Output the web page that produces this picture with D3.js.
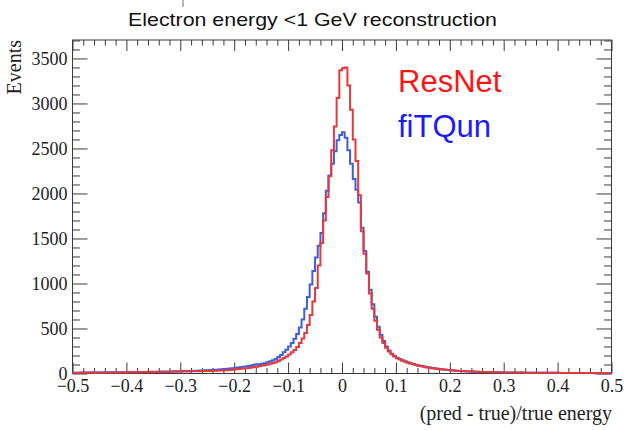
<!DOCTYPE html>
<html>
<head>
<meta charset="utf-8">
<script src="https://cdn.jsdelivr.net/npm/d3@7"></script>
<style>
  html, body { margin: 0; padding: 0; background: #ffffff; }
  svg { display: block; }
</style>
</head>
<body>
<svg id="chart" width="626" height="430"></svg>
<script>
// Histogram binning: 200 bins of width 0.005 over [-0.5, 0.5]
const xDomain = [-0.5, 0.5];
const binWidth = 0.005;

// Events per bin, ResNet reconstruction
const resnetCounts = [
  8, 9, 8, 9, 10, 9, 10, 10, 9, 11,
  10, 11, 11, 10, 12, 11, 12, 12, 13, 12,
  13, 13, 14, 13, 14, 15, 14, 15, 16, 15,
  16, 16, 17, 17, 18, 18, 19, 19, 20, 21,
  21, 22, 22, 23, 24, 24, 25, 26, 27, 27,
  28, 29, 30, 31, 33, 34, 35, 37, 39, 41,
  47, 49, 52, 55, 58, 62, 66, 71, 76, 82,
  90, 95, 101, 108, 116, 125, 140, 155, 172, 190,
  212, 235, 262, 295, 340, 390, 450, 540, 650, 800,
  950, 1200, 1450, 1700, 1960, 2190, 2480, 2745, 3060, 3370,
  3390, 3400, 3200, 2930, 2600, 2360, 1980, 1580, 1330, 1110,
  890, 720, 585, 485, 400, 340, 285, 245, 215, 190,
  170, 155, 142, 130, 120, 111, 102, 94, 87, 80,
  74, 68, 63, 59, 55, 51, 47, 44, 41, 38,
  35, 33, 31, 29, 27, 25, 24, 22, 21, 20,
  19, 18, 17, 16, 16, 15, 14, 14, 13, 13,
  12, 12, 11, 11, 11, 10, 10, 10, 9, 9,
  9, 9, 8, 8, 8, 8, 7, 7, 7, 7,
  7, 6, 6, 6, 6, 6, 6, 5, 5, 5,
  5, 5, 5, 5, 5, 4, 4, 4, 4, 4
];

// Events per bin, fiTQun reconstruction
const fitqunCounts = [
  8, 9, 9, 10, 9, 10, 11, 10, 11, 11,
  11, 12, 12, 13, 12, 13, 14, 13, 14, 15,
  15, 15, 16, 16, 17, 17, 18, 18, 19, 20,
  19, 20, 21, 21, 22, 23, 23, 24, 25, 25,
  26, 27, 27, 28, 29, 30, 31, 32, 33, 35,
  37, 39, 41, 43, 45, 47, 50, 52, 55, 58,
  62, 66, 70, 74, 78, 82, 88, 96, 104, 103,
  108, 115, 124, 135, 147, 162, 182, 205, 235, 265,
  300, 340, 385, 440, 510, 600, 720, 850, 990, 1140,
  1290, 1420, 1560, 1780, 2030, 2200, 2330, 2470, 2590, 2650,
  2680, 2620, 2480, 2330, 2160, 2040, 1900, 1620, 1360, 1130,
  930, 770, 630, 520, 430, 360, 300, 255, 220, 195,
  175, 160, 147, 135, 124, 115, 106, 98, 90, 83,
  77, 71, 66, 61, 57, 53, 49, 45, 42, 39,
  36, 33, 31, 29, 27, 25, 23, 22, 21, 20,
  19, 18, 17, 16, 15, 15, 14, 13, 13, 12,
  12, 11, 11, 11, 10, 10, 10, 9, 9, 9,
  8, 8, 8, 8, 8, 7, 7, 7, 7, 7,
  6, 6, 6, 6, 6, 6, 5, 5, 5, 5,
  5, 5, 5, 4, 4, 4, 4, 4, 4, 4
];

const xTicks = [-0.5, -0.4, -0.3, -0.2, -0.1, 0, 0.1, 0.2, 0.3, 0.4, 0.5];
const yTicks = [0, 500, 1000, 1500, 2000, 2500, 3000, 3500];
const seriesNames = ["ResNet", "fiTQun"];
const titleText = "Electron energy <1 GeV reconstruction";
const xLabel = "(pred - true)/true energy";
const yLabel = "Events";

const frame = { left: 72.5, right: 611.5, top: 40, bottom: 373.5 };
const yMax = 3705;

const lineColors = { ResNet: "#e6383f", fiTQun: "#3c5fdc" };
const textColors = { ResNet: "#ff1414", fiTQun: "#1a1aff" };
const serif = "'Liberation Serif', 'Times New Roman', serif";
const sans = "'Liberation Sans', Arial, sans-serif";
const axisColor = "#3a3a3a";

const svg = d3.select("#chart");

const x = d3.scaleLinear().domain(xDomain).range([frame.left, frame.right]);
const y = d3.scaleLinear().domain([0, yMax]).range([frame.bottom, frame.top]);

// minor tick positions
const xMinor = d3.range(-0.5, 0.5001, 0.02).filter(v => Math.abs(Math.round(v * 10) - v * 10) > 1e-6);
const yMinor = d3.range(0, yMax, 100).filter(v => v % 500 !== 0);

const fmtX = d => (Math.abs(d) < 1e-9 ? "0" : d3.format(".1f")(d));

function styleAxis(g) {
  g.select(".domain").remove();
  g.selectAll(".tick line").attr("stroke", axisColor).attr("stroke-width", 1);
  g.selectAll(".tick text")
    .attr("fill", "#222")
    .style("font-family", serif)
    .style("font-size", "18px");
}

// bottom axis with labels
svg.append("g")
  .attr("transform", `translate(0,${frame.bottom})`)
  .call(d3.axisBottom(x).tickValues(xTicks).tickSize(-11).tickPadding(6).tickFormat(fmtX))
  .call(styleAxis);
svg.append("g")
  .attr("transform", `translate(0,${frame.bottom})`)
  .call(d3.axisBottom(x).tickValues(xMinor).tickSize(-5.5).tickFormat(""))
  .call(styleAxis);

// top axis (ticks only)
svg.append("g")
  .attr("transform", `translate(0,${frame.top})`)
  .call(d3.axisTop(x).tickValues(xTicks).tickSize(-11).tickFormat(""))
  .call(styleAxis);
svg.append("g")
  .attr("transform", `translate(0,${frame.top})`)
  .call(d3.axisTop(x).tickValues(xMinor).tickSize(-5.5).tickFormat(""))
  .call(styleAxis);

// left axis with labels
svg.append("g")
  .attr("transform", `translate(${frame.left},0)`)
  .call(d3.axisLeft(y).tickValues(yTicks).tickSize(-15).tickPadding(5).tickFormat(d3.format("d")))
  .call(styleAxis);
svg.append("g")
  .attr("transform", `translate(${frame.left},0)`)
  .call(d3.axisLeft(y).tickValues(yMinor).tickSize(-7.5).tickFormat(""))
  .call(styleAxis);

// right axis (ticks only)
svg.append("g")
  .attr("transform", `translate(${frame.right},0)`)
  .call(d3.axisRight(y).tickValues(yTicks).tickSize(-15).tickFormat(""))
  .call(styleAxis);
svg.append("g")
  .attr("transform", `translate(${frame.right},0)`)
  .call(d3.axisRight(y).tickValues(yMinor).tickSize(-7.5).tickFormat(""))
  .call(styleAxis);

// frame
svg.append("rect")
  .attr("x", frame.left).attr("y", frame.top)
  .attr("width", frame.right - frame.left).attr("height", frame.bottom - frame.top)
  .attr("fill", "none").attr("stroke", axisColor).attr("stroke-width", 1);

// step outlines of the histograms
function stepPoints(counts) {
  const pts = counts.map((c, i) => [xDomain[0] + i * binWidth, c]);
  pts.push([xDomain[1], counts[counts.length - 1]]);
  return pts;
}
const stepLine = d3.line()
  .x(d => x(d[0]))
  .y(d => y(d[1]))
  .curve(d3.curveStepAfter);

const series = [
  { name: "fiTQun", counts: fitqunCounts },
  { name: "ResNet", counts: resnetCounts }
];
svg.append("g").selectAll("path")
  .data(series)
  .join("path")
  .attr("d", s => stepLine(stepPoints(s.counts)))
  .attr("fill", "none")
  .attr("stroke", s => lineColors[s.name])
  .attr("stroke-width", 2)
  .attr("stroke-linejoin", "miter");

// small grey mark above the title
svg.append("line")
  .attr("x1", 183).attr("x2", 183).attr("y1", 0).attr("y2", 7)
  .attr("stroke", "#b5b5b5").attr("stroke-width", 2);

// title
svg.append("text")
  .attr("x", 128).attr("y", 26)
  .attr("text-anchor", "start")
  .attr("textLength", 369).attr("lengthAdjust", "spacingAndGlyphs")
  .style("font-family", sans).style("font-size", "19px")
  .attr("fill", "#111")
  .text(titleText);

// axis titles
svg.append("text")
  .attr("transform", `translate(21,${frame.top}) rotate(-90)`)
  .attr("text-anchor", "end")
  .style("font-family", serif).style("font-size", "20px")
  .attr("fill", "#222")
  .text(yLabel);

svg.append("text")
  .attr("x", 612).attr("y", 420)
  .attr("text-anchor", "end")
  .style("font-family", serif).style("font-size", "20px")
  .attr("fill", "#222")
  .text(xLabel);

// legend labels
svg.append("g").selectAll("text")
  .data(seriesNames)
  .join("text")
  .attr("x", 398)
  .attr("y", (d, i) => 92 + i * 45)
  .style("font-family", sans).style("font-size", "31px")
  .attr("fill", d => textColors[d])
  .text(d => d);
</script>
</body>
</html>
